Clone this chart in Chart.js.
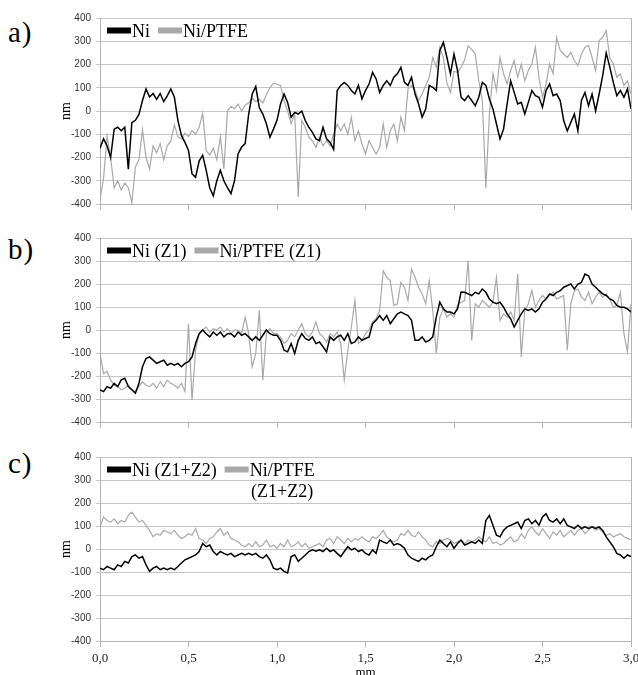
<!DOCTYPE html>
<html>
<head>
<meta charset="utf-8">
<script src="https://cdn.jsdelivr.net/npm/chart.js@4.4.0/dist/chart.umd.min.js"></script>
<style>
  html, body { margin: 0; padding: 0; background: #fff; overflow: hidden; width: 638px; height: 675px; }
  canvas { position: absolute; left: 0; }
  .tag { position: absolute; left: 8px; font-family: "Liberation Serif", serif; font-size: 29px; line-height: 29px; letter-spacing: 1px; color: #000; }
</style>
</head>
<body>
<div class="tag" style="top:18px">a)</div>
<div class="tag" style="top:235px">b)</div>
<div class="tag" style="top:449px">c)</div>
<canvas id="chartA" width="638" height="220" style="top:0px"></canvas>
<canvas id="chartB" width="638" height="220" style="top:220px"></canvas>
<canvas id="chartC" width="638" height="240" style="top:440px"></canvas>
<script>
// profile position, mm (one reading every 0.02 mm)
const distance = Array.from({ length: 151 }, (_, i) => +(i * 0.02).toFixed(2));
const xTicks = [0, 0.5, 1, 1.5, 2, 2.5, 3];

// a) as deposited
const niA = [
  -160, -120, -150, -200, -78,   -70, -85, -70, -250, -50,
  -40, -15, 45, 95, 60,          75, 50, 75, 40, 65,
  95, 60, -40, -105, -135,       -170, -270, -285, -215, -190,
  -255, -330, -365, -300, -255,  -300, -330, -355, -300, -185,
  -155, -140, -13, 73, 105,      15, -13, -55, -113, -78,
  -40, 30, 73, 37, -27,          -6, -13, 0, -42, -70,
  -92, -120, -128, -70, -120,    -135, -165, 88, 110, 123,
  110, 88, 73, 110, 52,          88, 116, 166, 138, 80,
  110, 130, 110, 145, 160,       188, 123, 110, 145, 73,
  30, -27, 8, 110, 102,          88, 260, 295, 230, 160,
  245, 174, 59, 45, 66,          45, 23, 59, 123, 110,
  52, 9, -56, -120, -78,         30, 130, 80, 30, 37,
  -13, 37, 88, 66, 59,           16, 88, 116, 66, 73,
  45, -42, -86, -49, -13,        -85, 45, 80, 23, 73,
  0, 73, 152, 250, 190,          123, 66, 88, 59, 95,
  9
];
const ptfeA = [
  -380, -290, -110, -200, -330,  -300, -340, -310, -330, -395,
  -240, -210, -80, -200, -250,   -150, -180, -140, -210, -150,
  -130, -60, -110, -120, -95,    -110, -85, -100, -70, -10,
  -170, -190, -160, -210, -110,  -250, 0, 20, 10, 30,
  0, 25, 35, 55, 40,             50, 35, 70, 100, 120,
  115, 110, 45, 0, -55,          -13, -370, -42, -70, -113,
  -128, -157, -113, -150, -128,  -150, -100, -56, -85, -56,
  -100, -27, -128, -85, -142,    -185, -128, -157, -185, -157,
  -56, -157, -85, -56, -128,     -27, -85, 95, 110, 88,
  45, 73, 110, 145, 230,         188, 274, 230, 120, 80,
  170, 166, 188, 220, 280,       265, 245, 130, 45, -330,
  -13, 160, 88, 230, 160,        116, 174, 217, 145, 202,
  130, 174, 202, 274, 145,       59, 116, 202, 160, 317,
  260, 245, 230, 252, 217,       195, 245, 274, 281, 230,
  174, 303, 317, 346, 230,       202, 145, 160, 110, 130,
  73
];

// b) after zone Z1
const niB = [
  -260, -268, -246, -253, -232,  -246, -217, -210, -246, -260,
  -275, -232, -160, -124, -117,  -131, -145, -138, -131, -153,
  -145, -153, -145, -160, -145,  -138, -117, -59, -16, 0,
  -16, -30, -9, -23, -9,         -30, -16, -16, -30, -9,
  -23, -16, -30, -45, -30,       -45, -23, 0, -16, -23,
  -23, -45, -88, -95, -59,       -102, -45, -16, -37, -45,
  -30, -59, -52, -73, -95,       -30, -45, -30, -23, -45,
  -16, -59, -52, -30, -45,       -37, -30, 27, 42, 63,
  42, 63, 27, 49, 70,            78, 70, 63, 42, -45,
  -45, -30, -52, -45, -30,       56, 121, 92, 78, 78,
  70, 92, 165, 164, 157,         150, 164, 157, 178, 164,
  135, 121, 114, 121, 99,        70, 49, 13, 42, 70,
  92, 85, 92, 78, 92,            121, 135, 157, 150, 164,
  171, 186, 193, 200, 178,       200, 207, 243, 236, 200,
  186, 171, 157, 150, 135,       128, 107, 99, 99, 92,
  78
];
const ptfeB = [
  -100, -190, -180, -218, -240,  -246, -260, -253, -240, -260,
  -268, -246, -225, -240, -246,  -232, -253, -225, -246, -218,
  -232, -240, -253, -232, -268,  27, -304, -88, -16, 0,
  13, -9, 6, 0, 13,              -9, 6, -16, 0, 0,
  -16, 56, -16, -160, -102,      85, -218, -16, 6, -16,
  -16, -30, -59, -45, -16,       -30, 0, 27, -16, -30,
  -9, 35, -16, -30, -52,         -16, -30, -9, -59, -217,
  -88, 13, 128, -59, -45,        -16, 0, 35, 49, 85,
  258, 229, 215, 107, 114,       207, 186, 128, 265, 229,
  186, 157, 114, 215, 85,        -102, 56, 92, 56, 70,
  56, 107, 121, 128, 301,        -45, 114, 99, 128, 114,
  99, 121, 229, 42, 70,          56, 78, 42, 243, -117,
  85, 114, 171, 99, 128,         150, 135, 150, 164, 135,
  143, 150, -88, 114, 171,       178, 143, 128, 164, 114,
  143, 164, 143, 157, 135,       99, 107, 164, -16, -95,
  114
];

// c) after zones Z1+Z2
const niC = [
  -83, -90, -76, -83, -90,       -69, -76, -54, -61, -33,
  -26, -40, -33, -69, -97,       -83, -76, -90, -83, -90,
  -83, -90, -76, -61, -47,       -40, -33, -26, -11, 24,
  10, 17, -11, -26, -11,         -19, -26, -19, -33, -26,
  -19, -26, -19, -26, -19,       -33, -40, -26, -47, -83,
  -90, -83, -97, -104, -33,      -26, -54, -40, -26, -11,
  -4, -10, -4, -11, 3,           -11, -4, -19, -33, -11,
  10, -4, 3, -11, -4,            -19, -26, -4, -19, 39,
  31, 24, 39, 17, 24,            17, 3, -26, -40, -47,
  -54, -40, -47, -33, -26,       10, 39, 24, 10, 31,
  3, 24, 39, 17, 24,             31, 24, 39, 24, 124,
  146, 103, 60, 53, 81,          96, 103, 110, 117, 89,
  124, 131, 110, 124, 103,       139, 153, 124, 117, 131,
  110, 131, 103, 96, 89,         103, 89, 96, 89, 96,
  89, 96, 81, 53, 31,            10, -19, -26, -40, -26,
  -33
];
const ptfeC = [
  96, 139, 124, 117, 131,        110, 124, 117, 146, 160,
  139, 117, 124, 103, 81,        53, 67, 60, 81, 74,
  67, 81, 60, 46, 53,            67, 60, 89, 46, 39,
  24, 46, 53, 74, 89,            60, 74, 46, 39, 31,
  17, 10, 24, 10, 31,            10, 17, 39, 10, 17,
  3, 24, 10, 39, 10,             17, 31, 10, 24, 3,
  10, 17, 24, 10, 39,            46, 24, 53, 39, 24,
  46, 31, 46, 39, 53,            39, 31, 53, 46, 60,
  81, 53, 39, 31, 39,            67, 60, 81, 60, 53,
  74, 53, 39, 17, 10,            31, 24, 39, 46, 39,
  24, 31, 39, 24, 39,            31, 39, 53, 39, 31,
  53, 24, 31, 17, 24,            39, 53, 31, 39, 67,
  46, 81, 96, 74, 60,            89, 67, 46, 74, 60,
  81, 53, 67, 81, 60,            81, 89, 67, 81, 96,
  81, 89, 74, 60, 67,            53, 60, 67, 53, 46,
  39
];

const BLACK = '#000000';
const GREY = '#a9a9a9';
const AXIS = '#b4b4b4';
const SERIF = '"Liberation Serif", "Times New Roman", serif';

const toPoints = values => distance.map((x, i) => ({ x: x, y: values[i] }));

// legend drawn inside the plot, top left, like the original figure
const insideLegend = {
  id: 'insideLegend',
  afterDraw(chart) {
    const { ctx, chartArea } = chart;
    ctx.save();
    ctx.font = '18px ' + SERIF;
    ctx.textBaseline = 'alphabetic';
    ctx.textAlign = 'center';
    let x = chartArea.left + 7;
    const boxTop = chartArea.top + 9.5;
    const base = chartArea.top + 18.5;
    chart.data.datasets.forEach(ds => {
      ctx.fillStyle = ds.borderColor;
      ctx.fillRect(x, boxTop, 24, 6);
      x += 25;
      const lines = [].concat(ds.label);
      const w = Math.max(...lines.map(l => ctx.measureText(l).width));
      ctx.fillStyle = '#000';
      lines.forEach((l, i) => ctx.fillText(l, x + w / 2, base + i * 21));
      x += w + 8;
    });
    ctx.restore();
  }
};

function makePanel(id, niLabel, ptfeLabel, niData, ptfeData, topPad, xHeight, bottomLabels) {
  return new Chart(document.getElementById(id), {
    type: 'line',
    data: {
      datasets: [
        { label: niLabel, data: toPoints(niData), borderColor: BLACK, backgroundColor: BLACK,
          borderWidth: 1.5, pointRadius: 0, tension: 0 },
        { label: ptfeLabel, data: toPoints(ptfeData), borderColor: GREY, backgroundColor: GREY,
          borderWidth: 1.2, pointRadius: 0, tension: 0 }
      ]
    },
    options: {
      responsive: false,
      animation: false,
      layout: { padding: { left: 58, right: 7, top: topPad, bottom: 0 } },
      plugins: { legend: { display: false }, tooltip: { enabled: false } },
      scales: {
        x: {
          type: 'linear',
          min: 0,
          max: 3,
          afterBuildTicks: s => { s.ticks = xTicks.map(v => ({ value: v })); },
          ticks: {
            display: bottomLabels,
            padding: 4,
            maxRotation: 0,
            color: '#222',
            font: { family: SERIF, size: 13 },
            callback: v => v.toFixed(1).replace('.', ',')
          },
          grid: {
            color: c => (c.tick && c.tick.value === 3 ? AXIS : 'rgba(0,0,0,0)'),
            tickColor: AXIS,
            tickLength: 6
          },
          border: { color: AXIS },
          title: {
            display: bottomLabels,
            text: 'mm',
            padding: 0,
            color: '#000',
            font: { family: SERIF, size: 13 }
          },
          afterFit: s => { s.height = xHeight; s.paddingLeft = 0; s.paddingRight = 0; }
        },
        y: {
          min: -400,
          max: 400,
          ticks: {
            stepSize: 100,
            padding: 5,
            color: '#333',
            font: { family: '"Liberation Sans", Arial, sans-serif', size: 10 }
          },
          grid: { color: '#c6c6c6', tickLength: 4 },
          border: { color: AXIS },
          title: {
            display: true,
            text: 'nm',
            padding: 0,
            color: '#000',
            font: { family: SERIF, size: 14 }
          },
          afterFit: s => { s.width = 42; s.paddingTop = 0; s.paddingBottom = 0; }
        }
      }
    },
    plugins: [insideLegend]
  });
}

makePanel('chartA', 'Ni', 'Ni/PTFE', niA, ptfeA, 18, 16, false);
makePanel('chartB', 'Ni (Z1)', 'Ni/PTFE (Z1)', niB, ptfeB, 18, 18, false);
makePanel('chartC', 'Ni (Z1+Z2)', ['Ni/PTFE', '(Z1+Z2)'], niC, ptfeC, 17, 39, true);
</script>
</body>
</html>
